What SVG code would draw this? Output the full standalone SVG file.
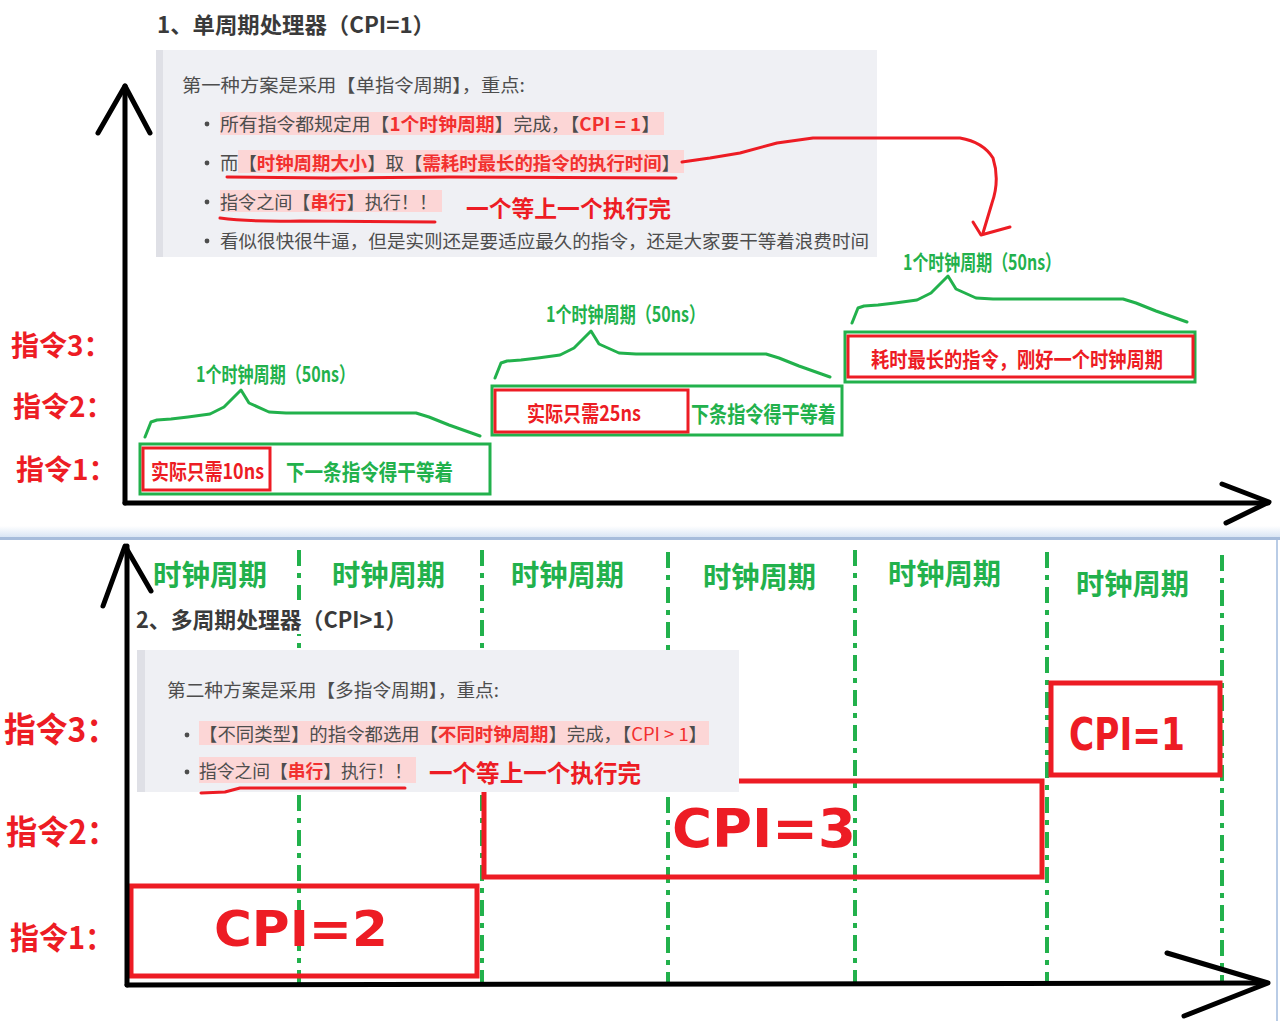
<svg xmlns="http://www.w3.org/2000/svg" width="1280" height="1021" viewBox="0 0 1280 1021">
<defs>
<style>
text{font-family:"Noto Sans CJK SC","Noto Sans",sans-serif;dominant-baseline:central}
.g{fill:#4d4d4d;font-size:18px}
.r{fill:#f2302f;font-weight:bold}
.rn{fill:#f2302f}
.title{fill:#3a3a3a;font-size:22px;font-weight:bold}
.gr{fill:#22b14c;font-weight:bold}
.rd{fill:#ed1c24;font-weight:bold}
.hl{fill:#fcd6d6}
.dot{fill:#4d4d4d}
.ax{stroke:#000;stroke-width:5;fill:none;stroke-linecap:round;stroke-linejoin:round}
.gbox{fill:#fff;stroke:#22b14c;stroke-width:3}
.rbox{fill:none;stroke:#ed1c24;stroke-width:3}
.rbox2{fill:none;stroke:#ed1c24;stroke-width:5}
.dash{stroke:#22b14c;stroke-width:4;stroke-dasharray:16 7 5 7;fill:none}
.cpi{font-family:"DejaVu Sans",sans-serif;font-weight:bold;fill:#ed1c24}
.quote{fill:#eff0f4}
.qbar{fill:#dfe0e6}
.brace{fill:none;stroke:#22b14c;stroke-width:3;stroke-linejoin:round;stroke-linecap:round}
.redline{fill:none;stroke:#ed1c24;stroke-width:3;stroke-linecap:round;stroke-linejoin:round}
</style>
<path id="brace" d="M0,0 L6,-15 L12,-17 L26,-18 L43,-20 L65,-23 L79,-30 L96,-47 L104,-34 L124,-25 L141,-24 L271,-24 L284,-20 L304,-12 L335,-1"/>
<linearGradient id="band" x1="0" y1="0" x2="0" y2="1"><stop offset="0" stop-color="#ffffff"/><stop offset="1" stop-color="#d9e5f4"/></linearGradient>
</defs>
<rect width="1280" height="1021" fill="#fff"/>

<!-- ========== Panel 1 ========== -->
<g id="title1"><text x="157" y="23" class="title" textLength="278" lengthAdjust="spacingAndGlyphs">1、单周期处理器（CPI=1）</text></g>

<g id="quote1">
<rect x="156" y="50" width="721" height="207" class="quote"/>
<rect x="156" y="50" width="7" height="207" class="qbar"/>
<text x="182" y="84" class="g" textLength="343" lengthAdjust="spacingAndGlyphs">第一种方案是采用【单指令周期】，重点:</text>
<rect x="220" y="112" width="444" height="23" class="hl"/>
<circle cx="207" cy="124" r="2.4" class="dot"/>
<text x="220" y="123" class="g" textLength="440" lengthAdjust="spacingAndGlyphs">所有指令都规定用【<tspan class="r">1个时钟周期</tspan>】完成，【<tspan class="r">CPI = 1</tspan>】</text>
<rect x="238" y="150" width="446" height="23" class="hl"/>
<circle cx="207" cy="163" r="2.4" class="dot"/>
<text x="220" y="162" class="g" textLength="460" lengthAdjust="spacingAndGlyphs">而【<tspan class="r">时钟周期大小</tspan>】取【<tspan class="r">需耗时最长的指令的执行时间</tspan>】</text>
<rect x="220" y="190" width="222" height="22" class="hl"/>
<circle cx="207" cy="202" r="2.4" class="dot"/>
<text x="220" y="201" class="g" textLength="217" lengthAdjust="spacingAndGlyphs">指令之间【<tspan class="r">串行</tspan>】执行！！</text>
<circle cx="207" cy="241" r="2.4" class="dot"/>
<text x="220" y="240" class="g" textLength="649" lengthAdjust="spacingAndGlyphs">看似很快很牛逼，但是实则还是要适应最久的指令，还是大家要干等着浪费时间</text>
</g>

<g id="note1"><text x="466" y="207" class="rd" font-size="23" textLength="205" lengthAdjust="spacingAndGlyphs">一个等上一个执行完</text></g>

<g id="labels1">
<text x="11" y="344" class="rd" font-size="28">指令3：</text>
<text x="13" y="405" class="rd" font-size="28">指令2：</text>
<text x="16" y="468" class="rd" font-size="28">指令1：</text>
</g>

<g id="instr1">
<use href="#brace" class="brace" transform="translate(145,437)"/>
<text x="196" y="373" class="gr" font-size="21" textLength="159" lengthAdjust="spacingAndGlyphs">1个时钟周期（50ns）</text>
<rect x="140" y="444" width="350" height="50" class="gbox"/>
<rect x="143" y="448" width="127" height="42" class="rbox"/>
<text x="151" y="470" class="rd" font-size="21" textLength="113" lengthAdjust="spacingAndGlyphs">实际只需10ns</text>
<text x="286" y="470" class="gr" font-size="22" textLength="167" lengthAdjust="spacingAndGlyphs">下一条指令得干等着</text>
</g>

<g id="instr2">
<use href="#brace" class="brace" transform="translate(495,378)"/>
<text x="546" y="313" class="gr" font-size="21" textLength="159" lengthAdjust="spacingAndGlyphs">1个时钟周期（50ns）</text>
<rect x="492" y="386" width="350" height="49" class="gbox"/>
<rect x="495" y="390" width="193" height="42" class="rbox"/>
<text x="527" y="412" class="rd" font-size="21" textLength="114" lengthAdjust="spacingAndGlyphs">实际只需25ns</text>
<text x="691" y="412" class="gr" font-size="22" textLength="145" lengthAdjust="spacingAndGlyphs">下条指令得干等着</text>
</g>

<g id="instr3">
<use href="#brace" class="brace" transform="translate(852,323)"/>
<text x="903" y="261" class="gr" font-size="21" textLength="158" lengthAdjust="spacingAndGlyphs">1个时钟周期（50ns）</text>
<rect x="845" y="332" width="350" height="50" class="gbox"/>
<rect x="848" y="336" width="345" height="41" class="rbox"/>
<text x="871" y="358" class="rd" font-size="21" textLength="292" lengthAdjust="spacingAndGlyphs">耗时最长的指令，刚好一个时钟周期</text>
</g>

<g id="axes1">
<path class="ax" d="M125,503 L125,86"/>
<path class="ax" d="M98,133 L125,86 L150,133"/>
<path class="ax" d="M125,503 L1268,503"/>
<path class="ax" d="M1222,484 L1269,502 L1226,523"/>
</g>

<g id="connectors">
<path class="redline" d="M227,177 L330,178 L450,177 L676,178"/>
<path class="redline" d="M220,218 Q250,222 300,221 L435,222"/>
<path class="redline" d="M682,162 L710,158 L740,153 L777,143 L813,138 L860,138 L960,138 Q983,142 993,158 Q1000,180 992,203 L983,233"/>
<path class="redline" d="M973,222 L981,235 L1010,227"/>
</g>

<!-- ========== Panel 2 ========== -->
<g id="band">
<rect x="0" y="526" width="1280" height="11" fill="url(#band)"/>
<rect x="0" y="537" width="1280" height="3" fill="#a6bcdb"/>
<rect x="1276" y="540" width="2" height="481" fill="#b9cce6"/>
</g>

<g id="grid">
<path class="dash" d="M299,550 L299,985"/>
<path class="dash" d="M482,550 L482,985"/>
<path class="dash" d="M668,552 L668,985"/>
<path class="dash" d="M855,550 L855,985"/>
<path class="dash" d="M1047,552 L1047,985"/>
<path class="dash" d="M1222,555 L1222,985"/>
</g>

<g id="cpi2box"><rect x="131" y="886" width="346" height="90" class="rbox2"/></g>
<g id="cpi3box"><rect x="484" y="781" width="558" height="96" class="rbox2"/></g>
<g id="cpi1box"><rect x="1051" y="683" width="169" height="92" class="rbox2"/></g>

<g id="title2">
<rect x="133" y="600" width="278" height="34" fill="#fff"/>
<text x="136" y="618" class="title" textLength="271" lengthAdjust="spacingAndGlyphs">2、多周期处理器（CPI&gt;1）</text>
</g>

<g id="quote2">
<rect x="137" y="650" width="602" height="142" class="quote"/>
<rect x="137" y="650" width="8" height="142" class="qbar"/>
<text x="167" y="689" class="g" textLength="332" lengthAdjust="spacingAndGlyphs">第二种方案是采用【多指令周期】，重点:</text>
<rect x="199" y="721" width="510" height="24" class="hl"/>
<circle cx="187" cy="735" r="2.4" class="dot"/>
<text x="199" y="733" class="g" textLength="508" lengthAdjust="spacingAndGlyphs">【不同类型】的指令都选用【<tspan class="r">不同时钟周期</tspan>】完成，【<tspan class="rn">CPI &gt; 1</tspan>】</text>
<rect x="199" y="757" width="217" height="26" class="hl"/>
<circle cx="187" cy="772" r="2.4" class="dot"/>
<text x="199" y="770" class="g" textLength="213" lengthAdjust="spacingAndGlyphs">指令之间【<tspan class="r">串行</tspan>】执行！！</text>
<text x="429" y="771" class="rd" font-size="24" textLength="212" lengthAdjust="spacingAndGlyphs">一个等上一个执行完</text>
<path class="redline" d="M201,793 L225,792 L240,788 L405,788"/>
</g>

<g id="clocks">
<text x="153" y="573" class="gr" font-size="29" textLength="114" lengthAdjust="spacingAndGlyphs">时钟周期</text>
<text x="332" y="573" class="gr" font-size="29" textLength="113" lengthAdjust="spacingAndGlyphs">时钟周期</text>
<text x="511" y="573" class="gr" font-size="29" textLength="113" lengthAdjust="spacingAndGlyphs">时钟周期</text>
<text x="703" y="575" class="gr" font-size="29" textLength="113" lengthAdjust="spacingAndGlyphs">时钟周期</text>
<text x="888" y="572" class="gr" font-size="29" textLength="113" lengthAdjust="spacingAndGlyphs">时钟周期</text>
<text x="1076" y="582" class="gr" font-size="29" textLength="113" lengthAdjust="spacingAndGlyphs">时钟周期</text>
</g>

<g id="labels2">
<text x="4" y="727" class="rd" font-size="34" textLength="114" lengthAdjust="spacingAndGlyphs">指令3：</text>
<text x="6" y="830" class="rd" font-size="33" textLength="112" lengthAdjust="spacingAndGlyphs">指令2：</text>
<text x="10" y="935" class="rd" font-size="31" textLength="104" lengthAdjust="spacingAndGlyphs">指令1：</text>
</g>

<g id="cpitexts">
<text x="214" y="929" class="cpi" font-size="50" textLength="174" lengthAdjust="spacingAndGlyphs">CPI=2</text>
<text x="672" y="828" class="cpi" font-size="53" textLength="184" lengthAdjust="spacingAndGlyphs">CPI=3</text>
<text x="1069" y="734" class="cpi" font-size="44" textLength="116" lengthAdjust="spacingAndGlyphs">CPI=1</text>
</g>

<g id="axes2">
<path class="ax" d="M127,985 L127,546"/>
<path class="ax" d="M103,606 L125,546 L151,591"/>
<path class="ax" stroke-width="6" d="M127,985 L1266,983"/>
<path class="ax" stroke-width="6" d="M1167,953 L1268,983 L1184,1016"/>
</g>
</svg>
